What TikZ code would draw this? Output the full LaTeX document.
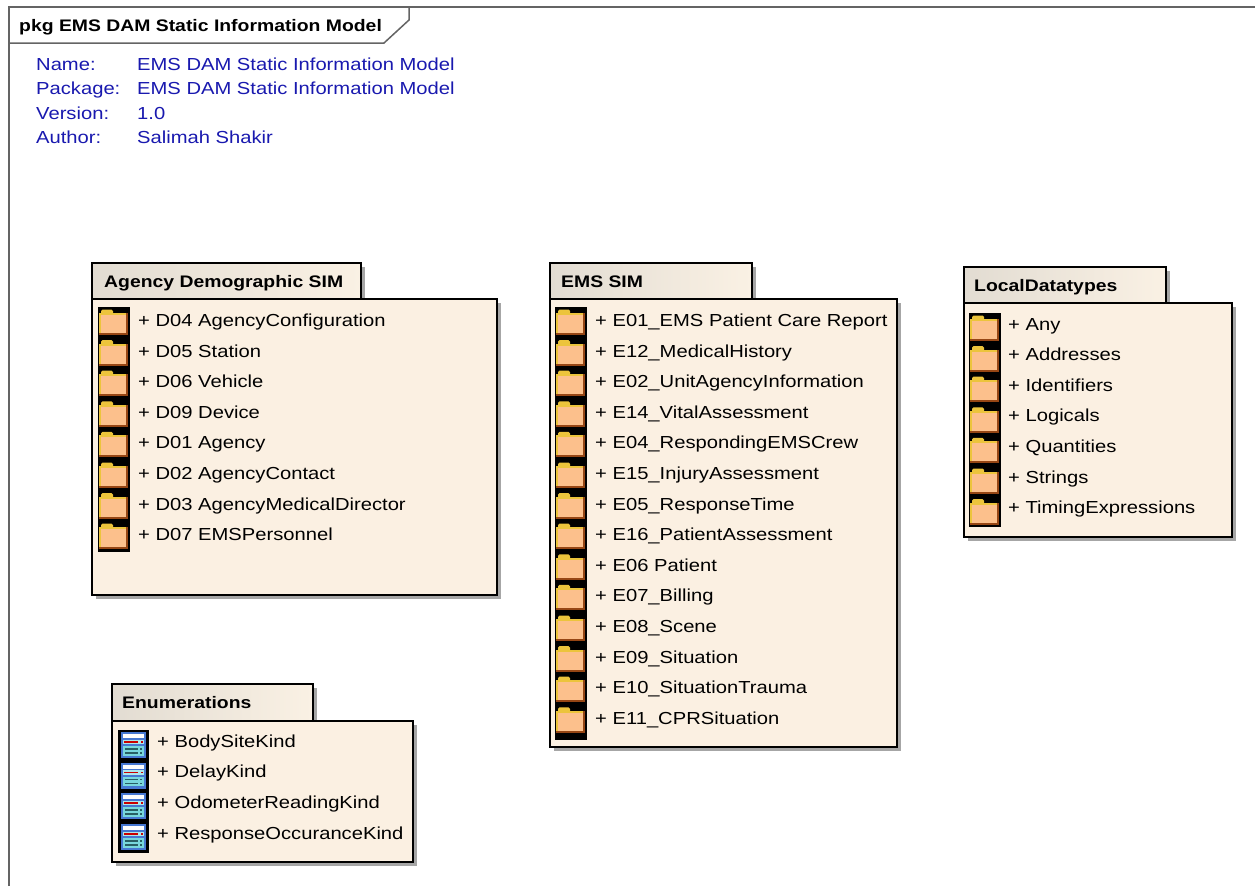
\documentclass[tikz,border=0pt]{standalone}
\usepackage{fontspec}
\newfontfamily\uif{Liberation Sans}[FakeStretch=1.16]
\definecolor{hdrblue}{RGB}{25,25,175}
\definecolor{bodyfill}{RGB}{251,240,226}
\definecolor{tabL}{RGB}{226,220,210}
\definecolor{tabR}{RGB}{250,241,228}
\definecolor{fold}{RGB}{252,192,140}
\definecolor{foldY}{RGB}{236,196,60}
\definecolor{foldB}{RGB}{150,70,20}
\definecolor{enB}{RGB}{70,120,210}
\definecolor{enT}{RGB}{120,215,220}
\definecolor{enD}{RGB}{40,95,100}
\definecolor{frm}{RGB}{100,100,100}
\tikzset{
  item/.style={anchor=base west, inner sep=0pt, font=\uif\fontsize{17.4}{20}\selectfont},
  ttl/.style={anchor=base west, inner sep=0pt, font=\uif\bfseries\fontsize{16.7}{20}\selectfont},
  hdr/.style={item, text=hdrblue},
  shadowbox/.style={fill=black!35, draw=none},
  pkgbody/.style={fill=bodyfill, draw=black, line width=1.4pt},
  pkgtab/.style={left color=tabL, right color=tabR, draw=black, line width=1.4pt},
  frameline/.style={draw=frm, line width=1.5pt},
}
% #1 left, #2 tab top, #3 tab right, #4 tab bottom, #5 body right, #6 body bottom
\newcommand\pkgbox[6]{%
  \fill[shadowbox] (#1+4,#2+4) rectangle (#3+4,#4+4);
  \fill[shadowbox] (#1+4,#4+4) rectangle (#5+4,#6+4);
  \draw[pkgtab] (#1,#2) rectangle (#3,#4);
  \draw[pkgbody] (#1,#4) rectangle (#5,#6);
}
\newcommand\foldico[2]{%
  \fill[foldY, rounded corners=1.5pt] (#1+3,#2+2.5) rectangle (#1+15,#2+8);
  \fill[foldB] (#1+1,#2+6) rectangle (#1+30,#2+28);
  \fill[foldY] (#1+1,#2+6) rectangle (#1+28,#2+26);
  \fill[fold] (#1+3,#2+8) rectangle (#1+28,#2+26);
}
\newcommand\enumico[2]{%
  \fill[enB] (#1+3,#2+2) rectangle (#1+28,#2+28);
  \fill[white] (#1+5,#2+4) rectangle (#1+26,#2+8);
  \fill[enT!60!white] (#1+5,#2+9.5) rectangle (#1+26,#2+14);
  \fill[red!80!black] (#1+6,#2+11) rectangle (#1+20,#2+12.5);
  \fill[red!80!black] (#1+22.5,#2+11) rectangle (#1+25,#2+12.5);
  \fill[enT] (#1+5,#2+16) rectangle (#1+26,#2+25.5);
  \fill[enD] (#1+7,#2+18) rectangle (#1+20,#2+19.5);
  \fill[enD] (#1+7,#2+22) rectangle (#1+20,#2+23.5);
  \fill[enD] (#1+22,#2+18) rectangle (#1+24,#2+19.5);
  \fill[enD] (#1+22,#2+22) rectangle (#1+24,#2+23.5);
}
\begin{document}
\begin{tikzpicture}[x=1pt,y=-1pt]
\useasboundingbox (0,0) rectangle (1255,886);
\fill[white] (0,0) rectangle (1255,886);
% outer frame
\draw[frameline] (9,886) -- (9,7) -- (1255,7);
\draw[frameline] (9,43) -- (384,43) -- (409,20) -- (409,7);
\node[ttl] (title) at (19,31) {pkg EMS DAM Static Information Model};
\node[hdr] (l1) at (36,70) {Name:};
\node[hdr] (l2) at (36,94.5) {Package:};
\node[hdr] (l3) at (36,119) {Version:};
\node[hdr] (l4) at (36,143.5) {Author:};
\node[hdr] (v1) at (137,70) {EMS DAM Static Information Model};
\node[hdr] (v2) at (137,94.5) {EMS DAM Static Information Model};
\node[hdr] (v3) at (137,119) {1.0};
\node[hdr] (v4) at (137,143.5) {Salimah Shakir};

% Agency Demographic SIM
\pkgbox{92}{263}{361}{299}{497}{595}
\node[ttl] (agency) at (104,287) {Agency Demographic SIM};
\fill[black] (98,307) rectangle (130,552);
\foreach \t [count=\i from 0] in {D04 AgencyConfiguration, D05 Station, D06 Vehicle, D09 Device, D01 Agency, D02 AgencyContact, D03 AgencyMedicalDirector, D07 EMSPersonnel}{
  \foldico{98}{307+\i*30.6}
  \node[item] (ag-\i) at (138,326.5+\i*30.6) {+ \t};
}

% EMS SIM
\pkgbox{550}{263}{752}{299}{897}{747}
\node[ttl] (ems) at (561,287) {EMS SIM};
\fill[black] (555,307) rectangle (587,739.5);
\foreach \t [count=\i from 0] in {E01\_EMS Patient Care Report, E12\_MedicalHistory, E02\_UnitAgencyInformation, E14\_VitalAssessment, E04\_RespondingEMSCrew, E15\_InjuryAssessment, E05\_ResponseTime, E16\_PatientAssessment, E06 Patient, E07\_Billing, E08\_Scene, E09\_Situation, E10\_SituationTrauma, E11\_CPRSituation}{
  \foldico{555}{307+\i*30.6}
  \node[item] (em-\i) at (595,326.5+\i*30.6) {+ \t};
}

% LocalDatatypes
\pkgbox{964}{267}{1166}{303}{1232}{537}
\node[ttl] (local) at (974,291) {LocalDatatypes};
\fill[black] (969,313) rectangle (1001,527);
\foreach \t [count=\i from 0] in {Any, Addresses, Identifiers, Logicals, Quantities, Strings, TimingExpressions}{
  \foldico{969}{313+\i*30.6}
  \node[item] (ld-\i) at (1008,330+\i*30.6) {+ \t};
}

% Enumerations
\pkgbox{112}{684}{313}{721}{413}{862}
\node[ttl] (enum) at (122,708) {Enumerations};
\fill[black] (118,730) rectangle (149,853);
\foreach \t [count=\i from 0] in {BodySiteKind, DelayKind, OdometerReadingKind, ResponseOccuranceKind}{
  \enumico{118}{730+\i*30.7}
  \node[item] (en-\i) at (157,747+\i*30.7) {+ \t};
}
\end{tikzpicture}
\end{document}
